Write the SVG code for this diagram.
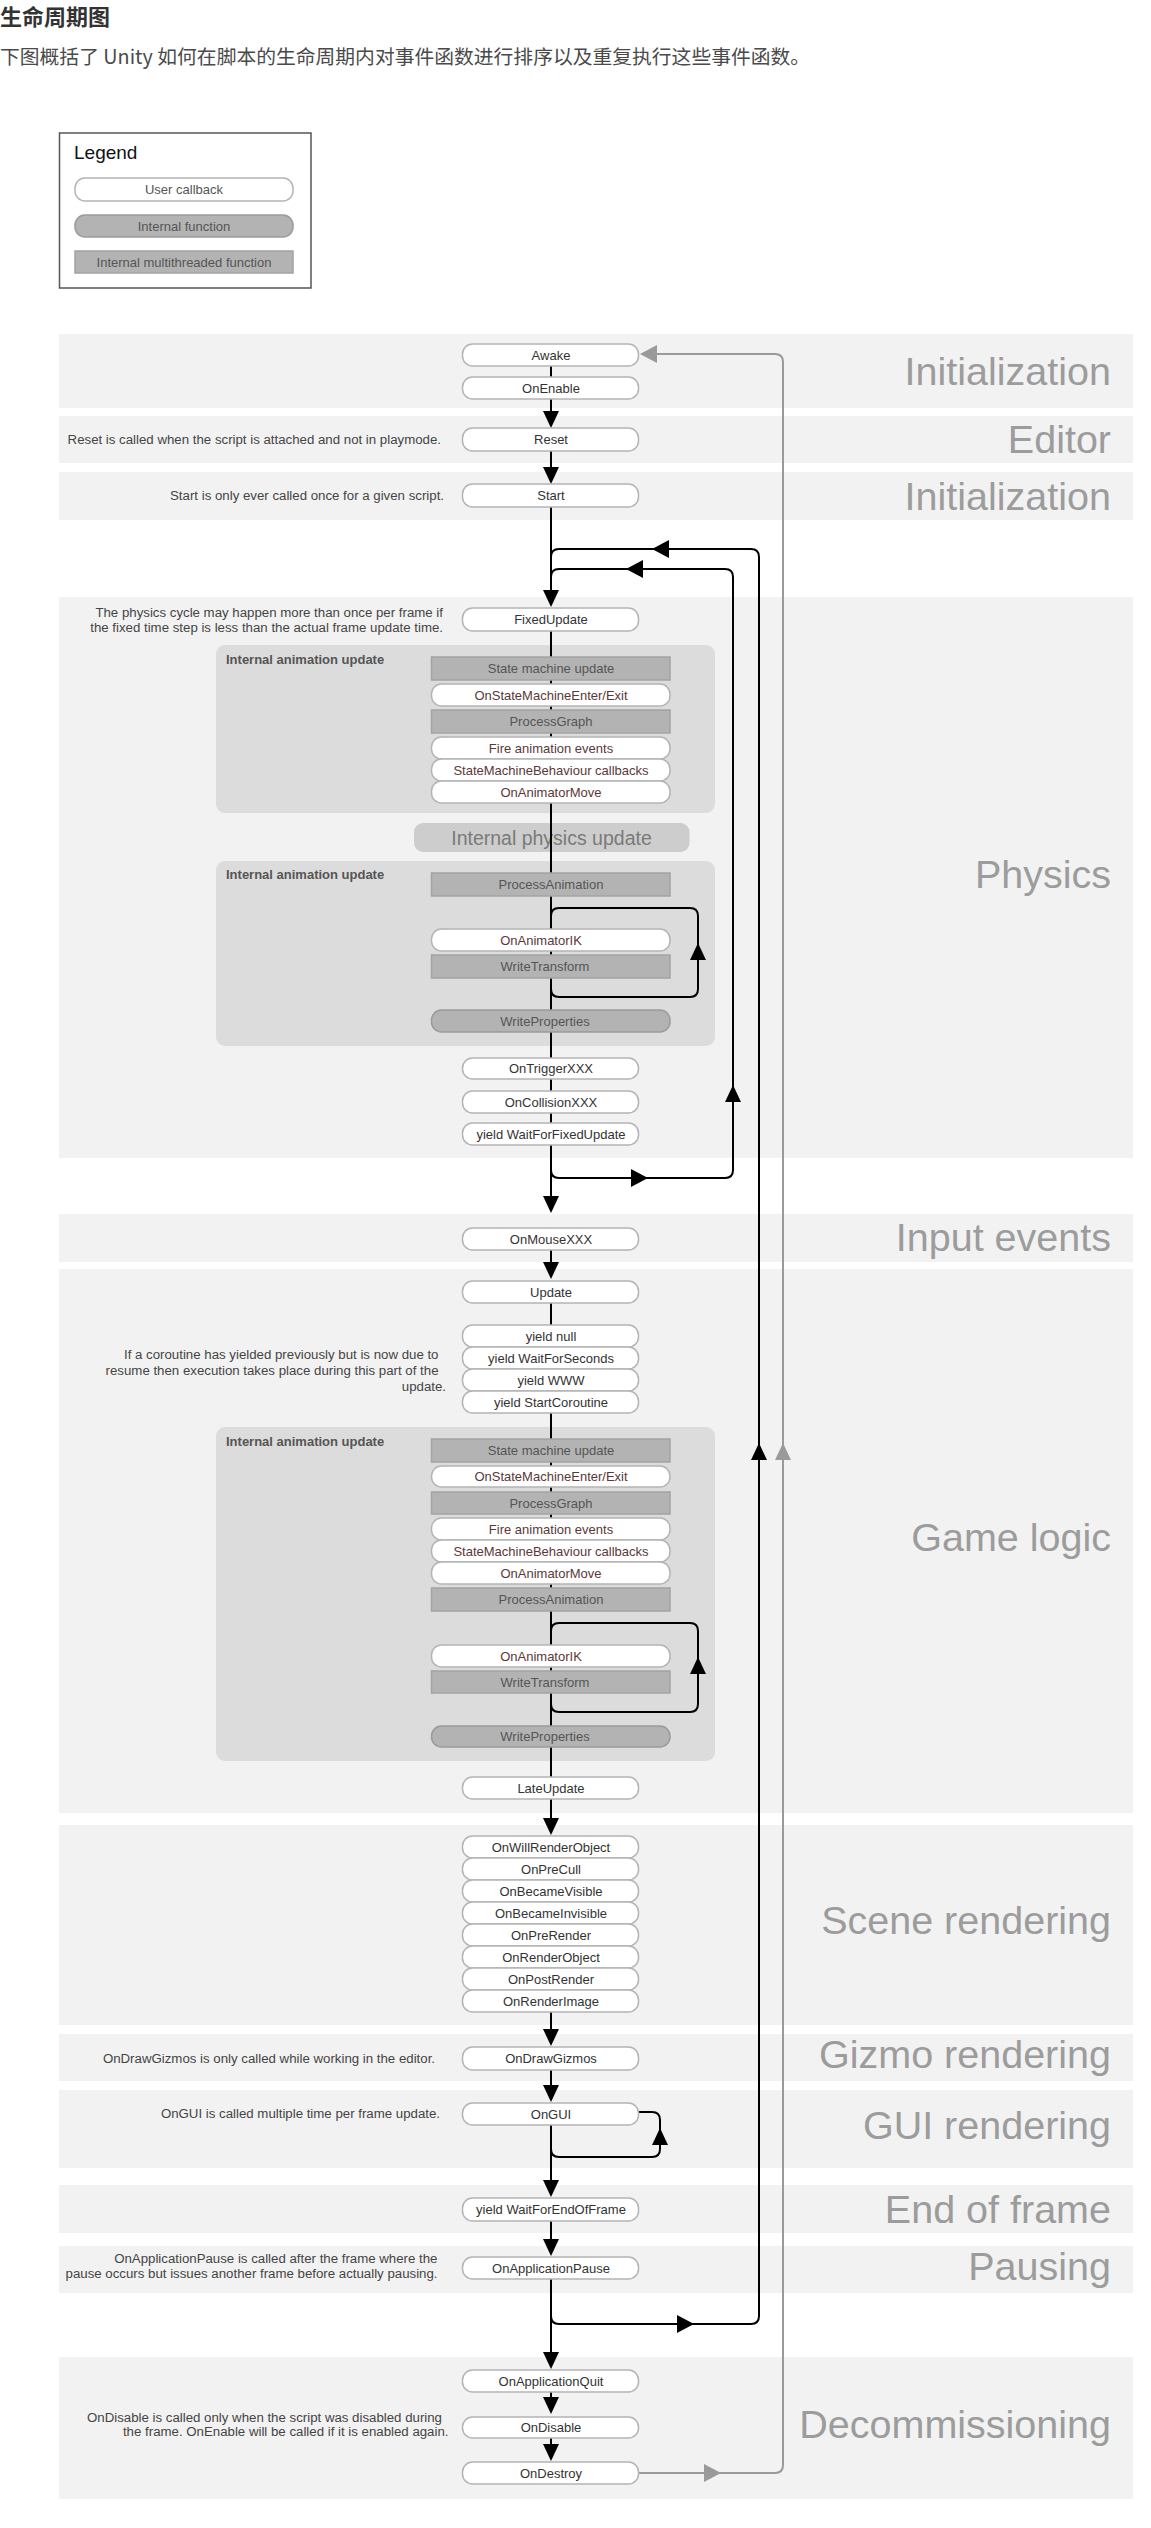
<svg xmlns="http://www.w3.org/2000/svg" xmlns:xlink="http://www.w3.org/1999/xlink" width="1151" height="2528" viewBox="0 0 1151 2528">
<style>
.band{fill:#f2f2f2}
.lbl{font-family:"Liberation Sans",Arial,sans-serif;font-size:39.5px;fill:#9c9c9c;text-anchor:end}
.cb{fill:#fff;stroke:#b4b4b4;stroke-width:1.5}
.fn{fill:#b3b3b3;stroke:#9a9a9a;stroke-width:1.5}
.mt{fill:#b3b3b3;stroke:#a3a3a3;stroke-width:1.5}
.t{font-family:"Liberation Sans",Arial,sans-serif;font-size:13px;text-anchor:middle;fill:#333}
.ta{fill:#5b3838}
.tg{fill:#555}
.note{font-family:"Liberation Sans",Arial,sans-serif;font-size:13.25px;text-anchor:end;fill:#444}
.abox{fill:#dcdcdc}
.abl{font-family:"Liberation Sans",Arial,sans-serif;font-size:13px;font-weight:bold;fill:#555}
.ln{stroke:#000;stroke-width:2;fill:none}
.lg{stroke:#9a9a9a;stroke-width:2;fill:none}
.ah{fill:#000}
.ahg{fill:#9a9a9a}
</style>
<defs>
<path id="ad" d="M0,0 L-8,-17 L8,-17Z"/>
<path id="au" d="M0,0 L-8,17 L8,17Z"/>
<path id="ar" d="M0,0 L-17,-9 L-17,9Z"/>
<path id="al" d="M0,0 L17,-9 L17,9Z"/>
</defs>
<rect width="1151" height="2528" fill="#fff"/>

<g id="heading">
<text x="0" y="25" font-family="'Noto Sans CJK SC',sans-serif" font-size="22" font-weight="bold" fill="#333">生命周期图</text>
<text x="0" y="64" font-family="'Noto Sans CJK SC',sans-serif" font-size="19.8" fill="#4a4a4a">下图概括了 Unity 如何在脚本的生命周期内对事件函数进行排序以及重复执行这些事件函数。</text>
</g>

<g id="legend">
<rect x="59.5" y="133" width="251.5" height="155" fill="#fff" stroke="#555" stroke-width="1.5"/>
<text x="74" y="159" font-family="'Liberation Sans',Arial,sans-serif" font-size="19" fill="#111">Legend</text>
<rect class="cb" x="75" y="178" width="218" height="23" rx="10"/>
<text class="t tg" x="184" y="194">User callback</text>
<rect class="fn" x="75" y="215" width="218" height="22" rx="10"/>
<text class="t tg" x="184" y="230.5">Internal function</text>
<rect class="mt" x="75" y="251" width="218" height="22"/>
<text class="t tg" x="184" y="266.5">Internal multithreaded function</text>
</g>

<g id="bands">
<rect class="band" x="59" y="334" width="1074" height="74"/>
<rect class="band" x="59" y="416" width="1074" height="47"/>
<rect class="band" x="59" y="472" width="1074" height="48"/>
<rect class="band" x="59" y="597" width="1074" height="561"/>
<rect class="band" x="59" y="1214" width="1074" height="48"/>
<rect class="band" x="59" y="1269" width="1074" height="544"/>
<rect class="band" x="59" y="1825" width="1074" height="200"/>
<rect class="band" x="59" y="2034" width="1074" height="47"/>
<rect class="band" x="59" y="2090" width="1074" height="78"/>
<rect class="band" x="59" y="2185" width="1074" height="48"/>
<rect class="band" x="59" y="2246" width="1074" height="47"/>
<rect class="band" x="59" y="2357" width="1074" height="142"/>
</g>

<g id="band-labels">
<text class="lbl" x="1111" y="385">Initialization</text>
<text class="lbl" x="1111" y="453">Editor</text>
<text class="lbl" x="1111" y="510">Initialization</text>
<text class="lbl" x="1111" y="888">Physics</text>
<text class="lbl" x="1111" y="1251">Input events</text>
<text class="lbl" x="1111" y="1551">Game logic</text>
<text class="lbl" x="1111" y="1934">Scene rendering</text>
<text class="lbl" x="1111" y="2068">Gizmo rendering</text>
<text class="lbl" x="1111" y="2139">GUI rendering</text>
<text class="lbl" x="1111" y="2223">End of frame</text>
<text class="lbl" x="1111" y="2280">Pausing</text>
<text class="lbl" x="1111" y="2438">Decommissioning</text>
</g>

<g id="notes">
<text class="note" x="441" y="443.5">Reset is called when the script is attached and not in playmode.</text>
<text class="note" x="444" y="500">Start is only ever called once for a given script.</text>
<text class="note" x="443" y="616.5">The physics cycle may happen more than once per frame if</text>
<text class="note" x="443" y="631.5">the fixed time step is less than the actual frame update time.</text>
<text class="note" x="438.5" y="1358.5">If a coroutine has yielded previously but is now due to</text>
<text class="note" x="438.5" y="1374.5">resume then execution takes place during this part of the</text>
<text class="note" x="446" y="1390.5">update.</text>
<text class="note" x="435" y="2062.5">OnDrawGizmos is only called while working in the editor.</text>
<text class="note" x="440" y="2117.5">OnGUI is called multiple time per frame update.</text>
<text class="note" x="437.5" y="2262.5">OnApplicationPause is called after the frame where the</text>
<text class="note" x="437.5" y="2277.5">pause occurs but issues another frame before actually pausing.</text>
<text class="note" x="442" y="2421.5">OnDisable is called only when the script was disabled during</text>
<text class="note" x="448.5" y="2435.5">the frame. OnEnable will be called if it is enabled again.</text>
</g>

<g id="anim-box-1">
<rect class="abox" x="216" y="645" width="499" height="168" rx="9"/>
<text class="abl" x="226" y="663.5">Internal animation update</text>
</g>
<g id="internal-physics-update">
<rect x="414" y="823" width="275.5" height="29" rx="9" fill="#cdcdcd"/>
<text x="551.5" y="844.5" font-family="'Liberation Sans',Arial,sans-serif" font-size="19.5" text-anchor="middle" fill="#7a7a7a">Internal physics update</text>
</g>
<g id="anim-box-2">
<rect class="abox" x="216" y="861" width="499" height="185" rx="9"/>
<text class="abl" x="226" y="878.5">Internal animation update</text>
</g>
<g id="anim-box-3">
<rect class="abox" x="216" y="1427" width="499" height="334" rx="9"/>
<text class="abl" x="226" y="1445.5">Internal animation update</text>
</g>

<g id="connectors">
<path class="ln" d="M551,366 V377 M551,399 V420 M551,451 V476 M551,507 V599 M551,631 V1123 M551,1145 V1205 M551,1250 V1271 M551,1303 V1777 M551,1799 V1827 M551,2012 V2038 M551,2070 V2094 M551,2125 V2189 M551,2221 V2248 M551,2279 V2361 M551,2392 V2406 M551,2438 V2453"/>
<use class="ah" href="#ad" x="551" y="428"/>
<use class="ah" href="#ad" x="551" y="484"/>
<use class="ah" href="#ad" x="551" y="607"/>
<use class="ah" href="#ad" x="551" y="1213"/>
<use class="ah" href="#ad" x="551" y="1279"/>
<use class="ah" href="#ad" x="551" y="1835"/>
<use class="ah" href="#ad" x="551" y="2046"/>
<use class="ah" href="#ad" x="551" y="2102"/>
<use class="ah" href="#ad" x="551" y="2197"/>
<use class="ah" href="#ad" x="551" y="2256"/>
<use class="ah" href="#ad" x="551" y="2369"/>
<use class="ah" href="#ad" x="551" y="2414"/>
<use class="ah" href="#ad" x="551" y="2461"/>
<path class="ln" d="M551,1160 L551,1170 Q551,1178 559,1178 L725,1178 Q733,1178 733,1170 L733,577 Q733,569 725,569 L559,569 Q551,569 551,577"/>
<use class="ah" href="#ar" x="648" y="1178"/>
<use class="ah" href="#au" x="733" y="1085"/>
<use class="ah" href="#al" x="626" y="569"/>
<path class="ln" d="M551,2300 L551,2316 Q551,2324 559,2324 L751,2324 Q759,2324 759,2316 L759,557 Q759,549 751,549 L559,549 Q551,549 551,557"/>
<use class="ah" href="#ar" x="694" y="2324"/>
<use class="ah" href="#au" x="759" y="1443"/>
<use class="ah" href="#al" x="652" y="549"/>
<path class="lg" d="M638.5,2473 L775,2473 Q783,2473 783,2465 L783,362 Q783,354 775,354 L650,354"/>
<use class="ahg" href="#ar" x="721" y="2473"/>
<use class="ahg" href="#au" x="783" y="1443"/>
<use class="ahg" href="#al" x="640" y="354"/>
<path class="ln" d="M551,916 Q551,908 559,908 L690,908 Q698,908 698,916 L698,989 Q698,997 690,997 L559,997 Q551,997 551,989"/>
<use class="ah" href="#au" x="698" y="943"/>
<path class="ln" d="M551,1631 Q551,1623 559,1623 L690,1623 Q698,1623 698,1631 L698,1704 Q698,1712 690,1712 L559,1712 Q551,1712 551,1704"/>
<use class="ah" href="#au" x="698" y="1657"/>
<path class="ln" d="M638.5,2112 L652,2112 Q660,2112 660,2120 L660,2149 Q660,2157 652,2157 L559,2157 Q551,2157 551,2149"/>
<use class="ah" href="#au" x="660" y="2128"/>
</g>

<g id="n-awake"><rect class="cb" x="462.5" y="344" width="176" height="22" rx="10"/><text class="t" x="551" y="359.5">Awake</text></g>
<g id="n-onenable"><rect class="cb" x="462.5" y="377" width="176" height="22" rx="10"/><text class="t" x="551" y="392.5">OnEnable</text></g>
<g id="n-reset"><rect class="cb" x="462.5" y="428" width="176" height="23" rx="10"/><text class="t" x="551" y="444">Reset</text></g>
<g id="n-start"><rect class="cb" x="462.5" y="484" width="176" height="23" rx="10"/><text class="t" x="551" y="500">Start</text></g>
<g id="n-fixedupdate"><rect class="cb" x="462.5" y="608" width="176" height="23" rx="10"/><text class="t" x="551" y="624">FixedUpdate</text></g>

<g id="n-p-smu"><rect class="mt" x="431.5" y="657" width="238.5" height="23"/><text class="t tg" x="551" y="673">State machine update</text></g>
<g id="n-p-smee"><rect class="cb" x="431.5" y="684" width="238.5" height="22" rx="10"/><text class="t ta" x="551" y="699.5">OnStateMachineEnter/Exit</text></g>
<g id="n-p-pg"><rect class="mt" x="431.5" y="710" width="238.5" height="23"/><text class="t tg" x="551" y="726">ProcessGraph</text></g>
<g id="n-p-fae"><rect class="cb" x="431.5" y="737" width="238.5" height="22" rx="10"/><text class="t ta" x="551" y="752.5">Fire animation events</text></g>
<g id="n-p-smb"><rect class="cb" x="431.5" y="759" width="238.5" height="22" rx="10"/><text class="t ta" x="551" y="774.5">StateMachineBehaviour callbacks</text></g>
<g id="n-p-oam"><rect class="cb" x="431.5" y="781" width="238.5" height="22" rx="10"/><text class="t ta" x="551" y="796.5">OnAnimatorMove</text></g>
<g id="n-p-pa"><rect class="mt" x="431.5" y="873" width="238.5" height="23"/><text class="t tg" x="551" y="889">ProcessAnimation</text></g>
<g id="n-p-oaik"><rect class="cb" x="431.5" y="929" width="238.5" height="22" rx="10"/><text class="t ta" x="541" y="944.5">OnAnimatorIK</text></g>
<g id="n-p-wt"><rect class="mt" x="431.5" y="955" width="238.5" height="23"/><text class="t tg" x="545" y="971">WriteTransform</text></g>
<g id="n-p-wp"><rect class="fn" x="431.5" y="1010" width="238.5" height="22" rx="10"/><text class="t tg" x="545" y="1025.5">WriteProperties</text></g>

<g id="n-ontrigger"><rect class="cb" x="462.5" y="1058" width="176" height="21" rx="10"/><text class="t" x="551" y="1073">OnTriggerXXX</text></g>
<g id="n-oncollision"><rect class="cb" x="462.5" y="1091" width="176" height="22" rx="10"/><text class="t" x="551" y="1106.5">OnCollisionXXX</text></g>
<g id="n-waitfixed"><rect class="cb" x="462.5" y="1123" width="176" height="22" rx="10"/><text class="t" x="551" y="1138.5">yield WaitForFixedUpdate</text></g>
<g id="n-onmouse"><rect class="cb" x="462.5" y="1228" width="176" height="22" rx="10"/><text class="t" x="551" y="1243.5">OnMouseXXX</text></g>
<g id="n-update"><rect class="cb" x="462.5" y="1281" width="176" height="22" rx="10"/><text class="t" x="551" y="1296.5">Update</text></g>
<g id="n-yieldnull"><rect class="cb" x="462.5" y="1325" width="176" height="22" rx="10"/><text class="t" x="551" y="1340.5">yield null</text></g>
<g id="n-waitseconds"><rect class="cb" x="462.5" y="1347" width="176" height="22" rx="10"/><text class="t" x="551" y="1362.5">yield WaitForSeconds</text></g>
<g id="n-www"><rect class="cb" x="462.5" y="1369" width="176" height="22" rx="10"/><text class="t" x="551" y="1384.5">yield WWW</text></g>
<g id="n-startcoroutine"><rect class="cb" x="462.5" y="1391" width="176" height="22" rx="10"/><text class="t" x="551" y="1406.5">yield StartCoroutine</text></g>

<g id="n-g-smu"><rect class="mt" x="431.5" y="1439" width="238.5" height="23"/><text class="t tg" x="551" y="1455">State machine update</text></g>
<g id="n-g-smee"><rect class="cb" x="431.5" y="1466" width="238.5" height="21" rx="10"/><text class="t ta" x="551" y="1481">OnStateMachineEnter/Exit</text></g>
<g id="n-g-pg"><rect class="mt" x="431.5" y="1492" width="238.5" height="22"/><text class="t tg" x="551" y="1507.5">ProcessGraph</text></g>
<g id="n-g-fae"><rect class="cb" x="431.5" y="1518" width="238.5" height="22" rx="10"/><text class="t ta" x="551" y="1533.5">Fire animation events</text></g>
<g id="n-g-smb"><rect class="cb" x="431.5" y="1540" width="238.5" height="22" rx="10"/><text class="t ta" x="551" y="1555.5">StateMachineBehaviour callbacks</text></g>
<g id="n-g-oam"><rect class="cb" x="431.5" y="1562" width="238.5" height="22" rx="10"/><text class="t ta" x="551" y="1577.5">OnAnimatorMove</text></g>
<g id="n-g-pa"><rect class="mt" x="431.5" y="1588" width="238.5" height="23"/><text class="t tg" x="551" y="1604">ProcessAnimation</text></g>
<g id="n-g-oaik"><rect class="cb" x="431.5" y="1645" width="238.5" height="22" rx="10"/><text class="t ta" x="541" y="1660.5">OnAnimatorIK</text></g>
<g id="n-g-wt"><rect class="mt" x="431.5" y="1671" width="238.5" height="22"/><text class="t tg" x="545" y="1686.5">WriteTransform</text></g>
<g id="n-g-wp"><rect class="fn" x="431.5" y="1726" width="238.5" height="21" rx="10"/><text class="t tg" x="545" y="1741">WriteProperties</text></g>

<g id="n-lateupdate"><rect class="cb" x="462.5" y="1777" width="176" height="22" rx="10"/><text class="t" x="551" y="1792.5">LateUpdate</text></g>
<g id="n-onwillrender"><rect class="cb" x="462.5" y="1836" width="176" height="22" rx="10"/><text class="t" x="551" y="1851.5">OnWillRenderObject</text></g>
<g id="n-onprecull"><rect class="cb" x="462.5" y="1858" width="176" height="22" rx="10"/><text class="t" x="551" y="1873.5">OnPreCull</text></g>
<g id="n-onbecamevisible"><rect class="cb" x="462.5" y="1880" width="176" height="22" rx="10"/><text class="t" x="551" y="1895.5">OnBecameVisible</text></g>
<g id="n-onbecameinvisible"><rect class="cb" x="462.5" y="1902" width="176" height="22" rx="10"/><text class="t" x="551" y="1917.5">OnBecameInvisible</text></g>
<g id="n-onprerender"><rect class="cb" x="462.5" y="1924" width="176" height="22" rx="10"/><text class="t" x="551" y="1939.5">OnPreRender</text></g>
<g id="n-onrenderobject"><rect class="cb" x="462.5" y="1946" width="176" height="22" rx="10"/><text class="t" x="551" y="1961.5">OnRenderObject</text></g>
<g id="n-onpostrender"><rect class="cb" x="462.5" y="1968" width="176" height="22" rx="10"/><text class="t" x="551" y="1983.5">OnPostRender</text></g>
<g id="n-onrenderimage"><rect class="cb" x="462.5" y="1990" width="176" height="22" rx="10"/><text class="t" x="551" y="2005.5">OnRenderImage</text></g>
<g id="n-ondrawgizmos"><rect class="cb" x="462.5" y="2047" width="176" height="23" rx="10"/><text class="t" x="551" y="2063">OnDrawGizmos</text></g>
<g id="n-ongui"><rect class="cb" x="462.5" y="2103" width="176" height="22" rx="10"/><text class="t" x="551" y="2118.5">OnGUI</text></g>
<g id="n-waitendofframe"><rect class="cb" x="462.5" y="2198" width="176" height="23" rx="10"/><text class="t" x="551" y="2214">yield WaitForEndOfFrame</text></g>
<g id="n-onapplicationpause"><rect class="cb" x="462.5" y="2257" width="176" height="22" rx="10"/><text class="t" x="551" y="2272.5">OnApplicationPause</text></g>
<g id="n-onapplicationquit"><rect class="cb" x="462.5" y="2370" width="176" height="22" rx="10"/><text class="t" x="551" y="2385.5">OnApplicationQuit</text></g>
<g id="n-ondisable"><rect class="cb" x="462.5" y="2417" width="176" height="21" rx="10"/><text class="t" x="551" y="2432">OnDisable</text></g>
<g id="n-ondestroy"><rect class="cb" x="462.5" y="2462" width="176" height="22" rx="10"/><text class="t" x="551" y="2477.5">OnDestroy</text></g>
</svg>
